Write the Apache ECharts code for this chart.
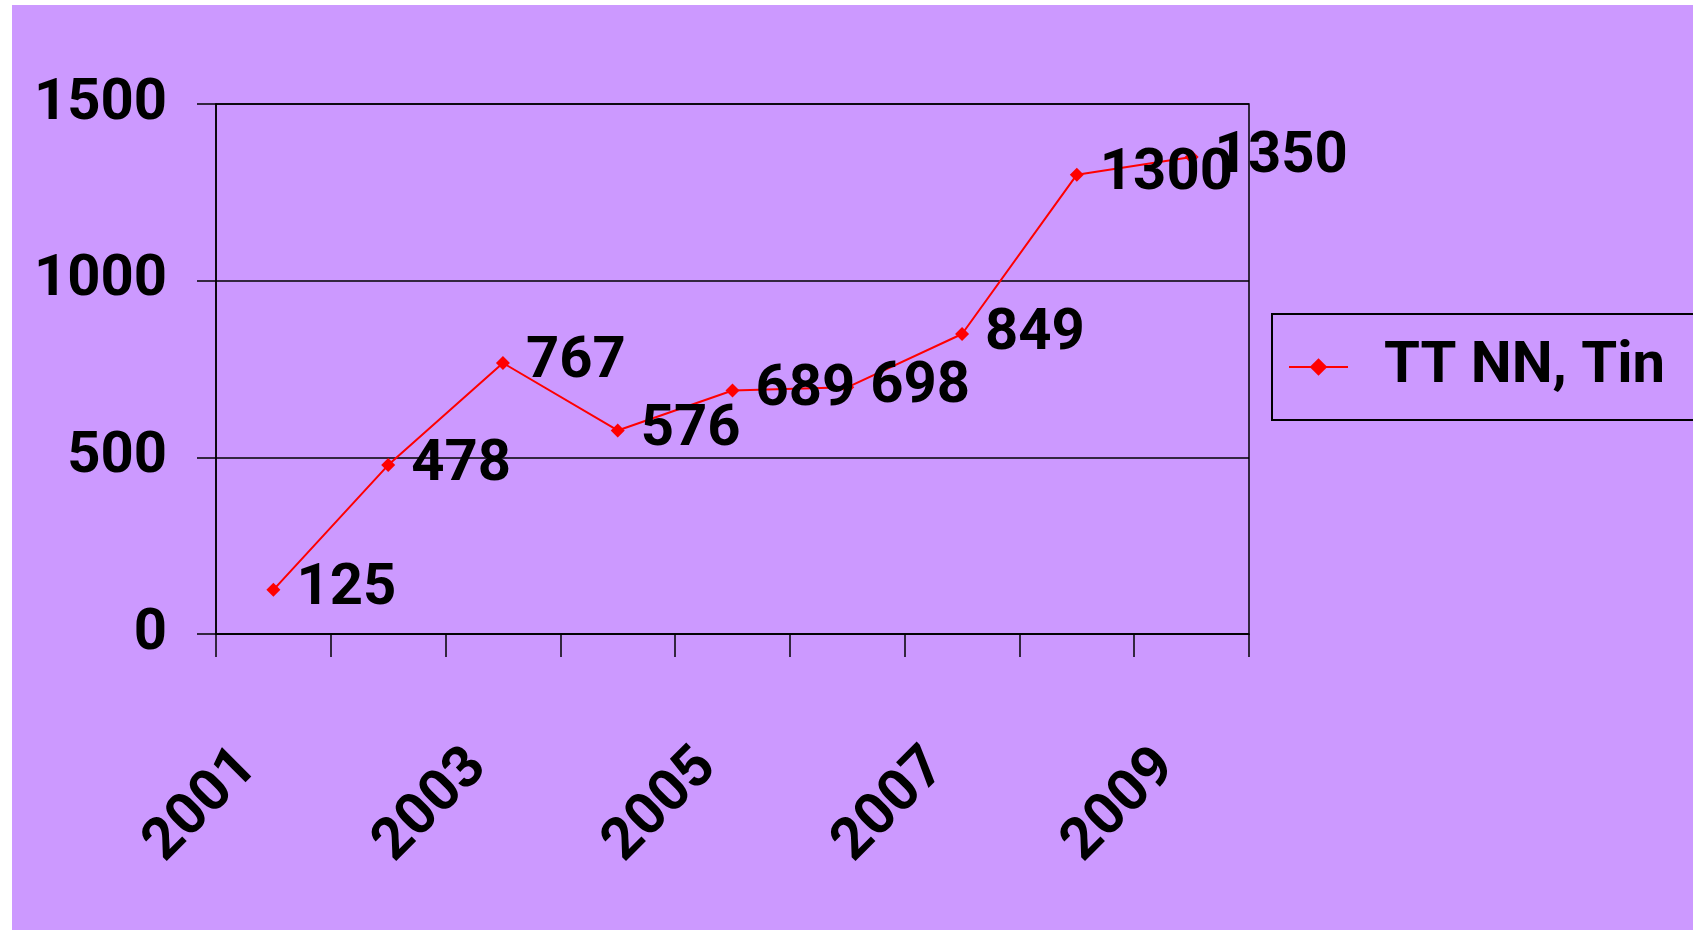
<!DOCTYPE html>
<html>
<head>
<meta charset="utf-8">
<script src="https://cdn.jsdelivr.net/npm/echarts@6/dist/echarts.min.js"></script>
<style>
  html, body { margin: 0; padding: 0; background: #ffffff; }
  #chart { width: 1693px; height: 930px; }
</style>
</head>
<body>
<div id="chart"></div>
<script>
const categories = ['2001', '2002', '2003', '2004', '2005', '2006', '2007', '2008', '2009'];
const seriesName = 'TT NN, Tin';
const values = [125, 478, 767, 576, 689, 698, 849, 1300, 1350];
const yTicks = { min: 0, max: 1500, interval: 500 };

const FONT = 'Roboto, "Noto Sans", sans-serif';
const FS = 58;
const chart = echarts.init(document.getElementById('chart'), null, { renderer: 'canvas' });

chart.setOption({
  backgroundColor: '#ffffff',
  animation: false,
  graphic: [{
    type: 'rect',
    z: -10,
    silent: true,
    shape: { x: 12, y: 5, width: 1693 - 12, height: 930 - 5 },
    style: { fill: '#CC99FF' }
  }],
  grid: {
    left: 216, right: 444, top: 104, bottom: 296,
    show: true, borderColor: '#000000', borderWidth: 1.5, backgroundColor: 'transparent'
  },
  legend: {
    show: true,
    left: 1272, top: 314,
    orient: 'horizontal',
    borderColor: '#000000', borderWidth: 2,
    padding: [24, 30, 24, 16],
    itemWidth: 59, itemHeight: 22,
    textStyle: {
      fontFamily: FONT, fontWeight: 'bold', fontSize: FS, color: '#000000',
      lineHeight: 58, padding: [0, 0, 0, 31]
    },
    data: [seriesName]
  },
  xAxis: {
    type: 'category',
    data: categories,
    boundaryGap: true,
    axisLine: { show: true, lineStyle: { color: '#000000', width: 1.5 } },
    axisTick: { show: true, interval: 0, length: 23, lineStyle: { color: '#000000', width: 1.5 } },
    axisLabel: {
      interval: 1,
      rotate: 45,
      margin: 100,
      align: 'right',
      padding: [0, 35, 0, 0],
      fontFamily: FONT, fontWeight: 'bold', fontSize: FS, color: '#000000'
    },
    splitLine: { show: false }
  },
  yAxis: {
    type: 'value',
    min: yTicks.min, max: yTicks.max, interval: yTicks.interval,
    axisLine: { show: true, lineStyle: { color: '#000000', width: 1.5 } },
    axisTick: { show: true, length: 19, lineStyle: { color: '#000000', width: 1.5 } },
    axisLabel: {
      margin: 49,
      formatter: function (v) { return String(v); },
      fontFamily: FONT, fontWeight: 'bold', fontSize: FS, color: '#000000'
    },
    splitLine: { show: true, lineStyle: { color: '#000000', width: 1.5 } }
  },
  series: [{
    name: seriesName,
    type: 'line',
    data: values,
    symbol: 'diamond',
    symbolSize: 14,
    showAllSymbol: true,
    lineStyle: { color: '#FF0000', width: 2 },
    itemStyle: { color: '#FF0000' },
    label: {
      show: true,
      position: 'right',
      distance: 16,
      fontFamily: FONT, fontWeight: 'bold', fontSize: FS, color: '#000000'
    },
    emphasis: { disabled: true }
  }]
});
</script>
</body>
</html>
